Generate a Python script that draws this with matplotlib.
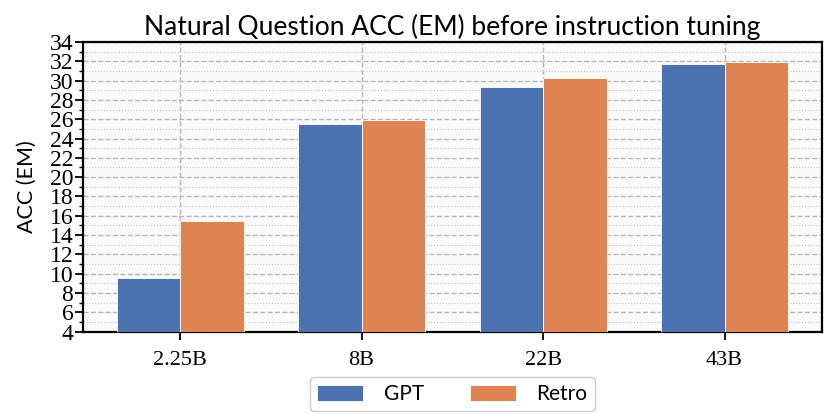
import matplotlib.pyplot as plt
import numpy as np
from matplotlib.ticker import MultipleLocator

# values
models = ['2.25B', '8B', '22B', '43B']
gpt = [9.55, 25.5, 29.3, 31.75]
retro = [15.5, 25.95, 30.3, 31.9]

sans = ['Lato', 'DejaVu Sans']
serif = ['Liberation Serif', 'DejaVu Serif']

fig = plt.figure(figsize=(8.3, 4.15), dpi=100)
ax = fig.add_axes([0.1, 0.2007, 0.89, 0.6983])
ax.set_facecolor('#fafafa')

x = np.arange(len(models))
w = 0.35
ax.bar(x - w / 2, gpt, w, label='GPT', color='#4C72B0', edgecolor='#ffffff', linewidth=0.6, zorder=3)
ax.bar(x + w / 2, retro, w, label='Retro', color='#DD8452', edgecolor='#ffffff', linewidth=0.6, zorder=3)

ax.set_ylim(4, 34)
ax.yaxis.set_major_locator(MultipleLocator(2))
ax.yaxis.set_minor_locator(MultipleLocator(1))
ax.set_xticks(x)
ax.set_xticklabels(models)

ax.grid(which='major', linestyle='--', color='#b8b8b8', linewidth=1.0, zorder=0)
ax.grid(which='minor', axis='y', linestyle=':', color='#c8c8c8', linewidth=0.8, zorder=0)

for lab in ax.get_yticklabels():
    lab.set_family(serif)
    lab.set_fontsize(17)
for lab in ax.get_xticklabels():
    lab.set_family(serif)
    lab.set_fontsize(16)
ax.tick_params(axis='both', which='major', length=6, width=1.3, pad=1)
ax.tick_params(axis='y', which='minor', length=3, width=1.0)
ax.tick_params(axis='x', pad=8)
for s in ax.spines.values():
    s.set_linewidth(1.6)

ax.set_ylabel('ACC (EM)', family=sans, fontsize=15.5, labelpad=9)
ax.set_title('Natural Question ACC (EM) before instruction tuning', family=sans, fontsize=19, pad=5)

leg = ax.legend(loc='upper center', bbox_to_anchor=(0.5, -0.12), ncol=2, prop={'family': sans, 'size': 15},
                handlelength=2.2, handleheight=0.8, handletextpad=1.0, columnspacing=2.2,
                fancybox=True, edgecolor='#cccccc', framealpha=1.0, borderpad=0.35)

fig.savefig('out.png', dpi=100)
